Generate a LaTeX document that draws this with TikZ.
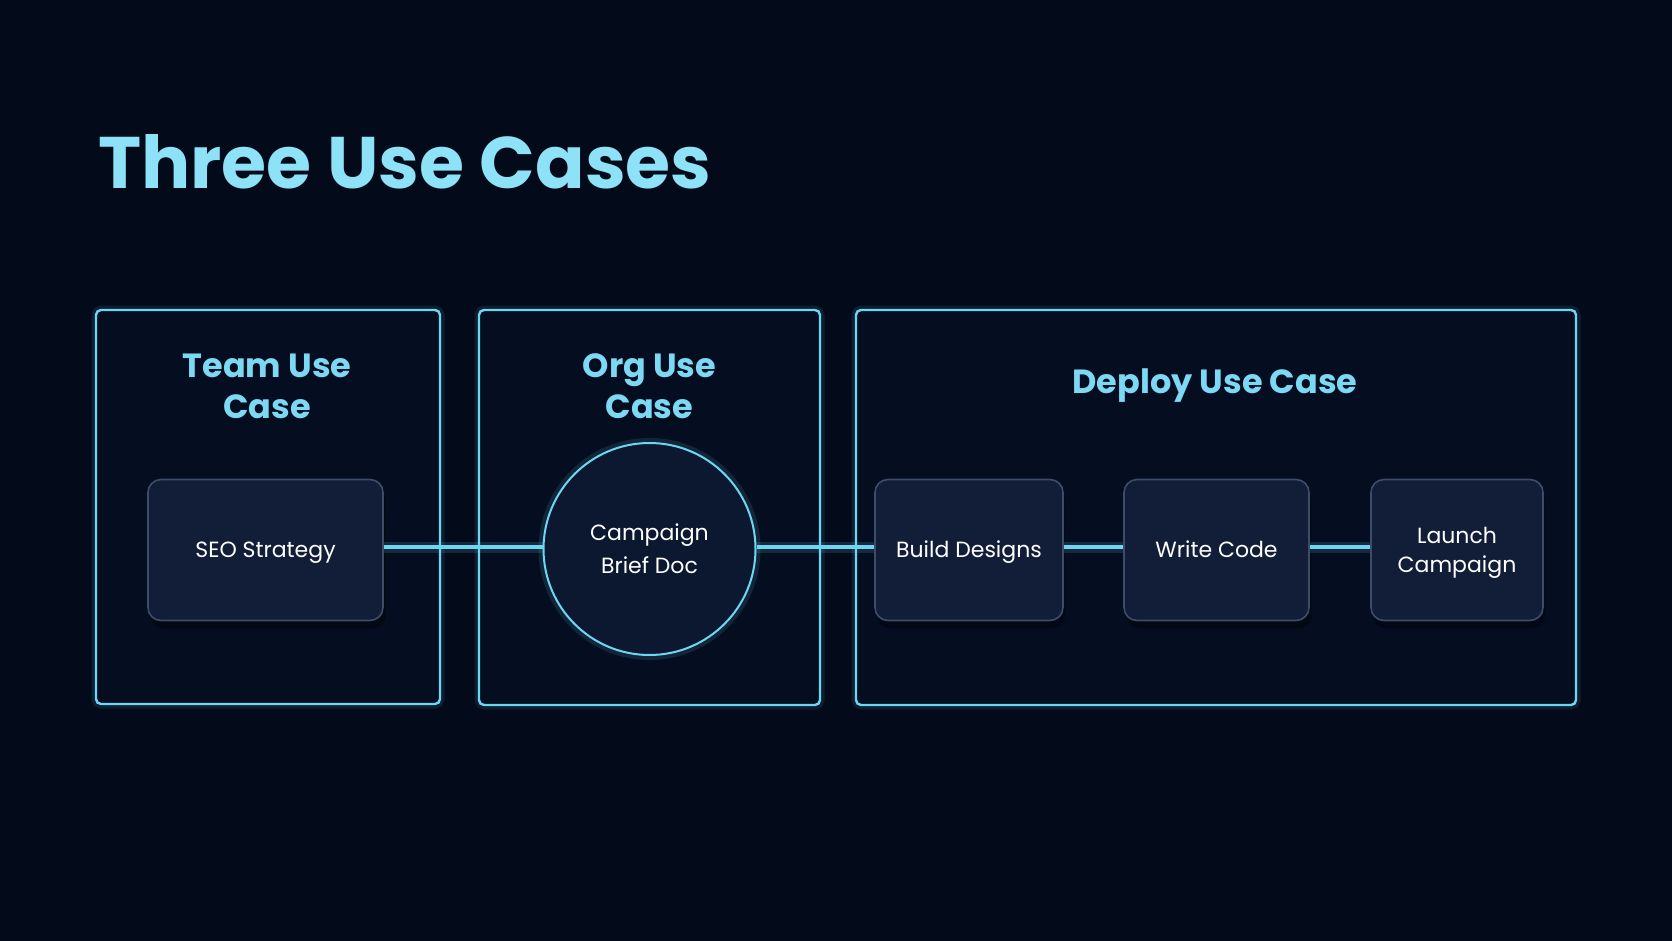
\documentclass[tikz,border=0pt]{standalone}
\usepackage{fontspec}
\setmainfont{Poppins}
\usetikzlibrary{shapes.geometric}
\definecolor{bg}{HTML}{030A1A}
\definecolor{cyanline}{HTML}{6ED6F2}
\definecolor{titlecyan}{HTML}{8EE2F8}
\definecolor{headcyan}{HTML}{7DD8F3}
\definecolor{nodefill}{HTML}{121E38}
\definecolor{nodeedge}{HTML}{3D4C68}
\definecolor{circfill}{HTML}{0B1830}
\definecolor{boxfill}{HTML}{050E20}
\tikzset{
  usebox/.style={draw=cyanline, fill=boxfill, line width=2.4pt, rounded corners=5pt, inner sep=0pt},
  boxglow/.style={draw=cyanline, line width=9pt, rounded corners=5pt, opacity=0.10, inner sep=0pt},
  stepnode/.style={draw=nodeedge, fill=nodefill, line width=1.6pt, rounded corners=13pt, minimum height=141pt, inner sep=0pt, text=white, align=center, font=\fontsize{22}{29}\selectfont, text height=17pt, text depth=1.6pt},
  twoline/.style={text height=46pt, text depth=1.6pt},
  shadownode/.style={fill=black, rounded corners=13pt, minimum height=141pt, inner sep=0pt, opacity=0.35},
  docnode/.style={circle, draw=cyanline, fill=circfill, line width=2pt, minimum size=212pt, inner sep=0pt, text=white, align=center, font=\fontsize{22}{33}\selectfont},
  circglow/.style={circle, draw=cyanline, line width=10pt, minimum size=212pt, inner sep=0pt, opacity=0.12},
  link/.style={draw=cyanline, line width=4pt},
  linkglow/.style={draw=cyanline, line width=11pt, opacity=0.15},
  head/.style={text=headcyan, align=center, font=\bfseries\fontsize{33.5}{41}\selectfont},
}
\begin{document}
\begin{tikzpicture}[x=1pt,y=-1pt]
\fill[bg] (0,0) rectangle (1672,941);
\useasboundingbox (0,0) rectangle (1672,941);

% title
\node[anchor=base west, inner sep=0pt, text=titlecyan, font=\bfseries\fontsize{73}{80}\selectfont] (title) at (98,189) {Three Use Cases};

% boxes (glow + main)
\draw[boxglow] (96,310) rectangle (440,704);
\draw[boxglow] (479,310) rectangle (820,705);
\draw[boxglow] (856,310) rectangle (1576,705);
\node[usebox, minimum width=344pt, minimum height=394pt] (box1) at (268,507) {};
\node[usebox, minimum width=341pt, minimum height=395pt] (box2) at (649.5,507.5) {};
\node[usebox, minimum width=720pt, minimum height=395pt] (box3) at (1216,507.5) {};

% headings
\node[head] (h1) at (267,386) {Team Use\\Case};
\node[head] (h2) at (649.5,386) {Org Use\\Case};
\node[head] (h3) at (1215,386) {Deploy Use Case};

% shadows
\node[shadownode, minimum width=235pt] at (268,558) {};
\node[shadownode, minimum width=188pt] at (971,558) {};
\node[shadownode, minimum width=185pt] at (1219,558) {};
\node[shadownode, minimum width=172pt] at (1459,558) {};

% connector glow
\draw[linkglow] (383,547) -- (1371,547);

% nodes
\node[stepnode, minimum width=235pt] (seo) at (265.5,550) {SEO Strategy};
\node[circglow] at (649.5,549) {};
\node[docnode] (doc) at (649.5,549) {Campaign\\Brief Doc};
\node[stepnode, minimum width=188pt] (build) at (969,550) {Build Designs};
\node[stepnode, minimum width=185pt] (code) at (1216.5,550) {Write Code};
\node[stepnode, twoline, minimum width=172pt] (launch) at (1457,550) {Launch\\Campaign};

% connectors
\draw[link] ([yshift=3pt]seo.east) -- ([yshift=2pt]doc.west);
\draw[link] ([yshift=2pt]doc.east) -- ([yshift=3pt]build.west);
\draw[link] ([yshift=3pt]build.east) -- ([yshift=3pt]code.west);
\draw[link] ([yshift=3pt]code.east) -- ([yshift=3pt]launch.west);
\end{tikzpicture}
\end{document}
